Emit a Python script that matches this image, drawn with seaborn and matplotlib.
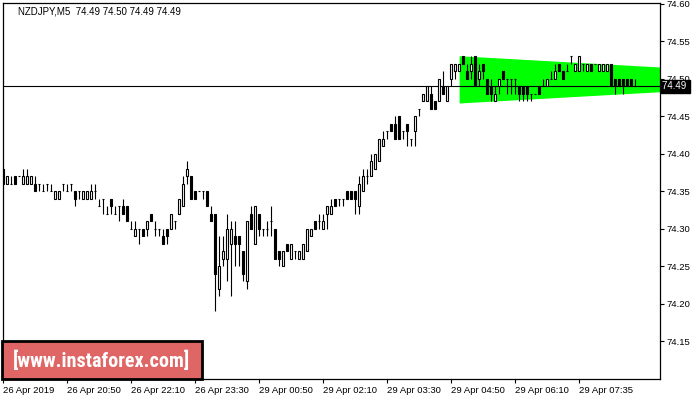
import matplotlib
matplotlib.use("Agg")
import matplotlib.pyplot as plt
import matplotlib.transforms as mtransforms
from matplotlib.patches import Rectangle
from matplotlib import font_manager
import seaborn as sns
import numpy as np
import pandas as pd

# ---------------- data (NZDJPY, M5) ----------------
open_ = [74.38, 74.36, 74.36, 74.37, 74.37, 74.36, 74.36, 74.36, 74.36, 74.36,
         74.35, 74.36, 74.35, 74.34, 74.34, 74.36, 74.35, 74.36, 74.35, 74.35,
         74.34, 74.34, 74.34, 74.35, 74.33, 74.34, 74.32, 74.34, 74.32, 74.33,
         74.33, 74.33, 74.30, 74.29, 74.30, 74.30, 74.30, 74.32, 74.30, 74.30,
         74.29, 74.30, 74.30, 74.31, 74.32, 74.33, 74.37, 74.37, 74.35, 74.35,
         74.35, 74.35, 74.32, 74.32, 74.22, 74.26, 74.26, 74.28, 74.29, 74.29,
         74.27, 74.23, 74.32, 74.28, 74.32, 74.30, 74.30, 74.31, 74.30, 74.27,
         74.25, 74.28, 74.26, 74.27, 74.26, 74.26, 74.27, 74.29, 74.31, 74.31,
         74.30, 74.32, 74.32, 74.34, 74.34, 74.34, 74.35, 74.35, 74.35, 74.33,
         74.35, 74.37, 74.37, 74.38, 74.39, 74.41, 74.43, 74.44, 74.44, 74.45,
         74.43, 74.44, 74.42, 74.43, 74.46, 74.47, 74.47, 74.48, 74.47, 74.47,
         74.49, 74.47, 74.50, 74.51, 74.51, 74.53, 74.51, 74.51, 74.53, 74.50,
         74.52, 74.50, 74.49, 74.47, 74.49, 74.51, 74.50, 74.50, 74.50, 74.49,
         74.49, 74.49, 74.48, 74.48, 74.49, 74.49, 74.49, 74.50, 74.50, 74.52,
         74.51, 74.51, 74.53, 74.51, 74.51, 74.52, 74.51, 74.52, 74.52, 74.51,
         74.51, 74.51, 74.52, 74.50, 74.50, 74.50, 74.50, 74.50, 74.49]
high = [74.38, 74.37, 74.37, 74.37, 74.37, 74.38, 74.38, 74.37, 74.37, 74.36,
        74.36, 74.36, 74.36, 74.35, 74.35, 74.36, 74.36, 74.36, 74.35, 74.35,
        74.35, 74.35, 74.36, 74.36, 74.34, 74.34, 74.33, 74.34, 74.33, 74.33,
        74.34, 74.33, 74.31, 74.31, 74.30, 74.30, 74.31, 74.32, 74.31, 74.30,
        74.30, 74.30, 74.32, 74.31, 74.34, 74.37, 74.39, 74.37, 74.35, 74.35,
        74.35, 74.35, 74.33, 74.32, 74.29, 74.29, 74.32, 74.31, 74.31, 74.29,
        74.27, 74.31, 74.33, 74.33, 74.32, 74.30, 74.31, 74.33, 74.30, 74.27,
        74.27, 74.28, 74.28, 74.27, 74.27, 74.28, 74.30, 74.30, 74.31, 74.32,
        74.32, 74.33, 74.34, 74.34, 74.34, 74.34, 74.35, 74.35, 74.35, 74.37,
        74.38, 74.38, 74.40, 74.40, 74.42, 74.43, 74.43, 74.44, 74.45, 74.45,
        74.43, 74.44, 74.42, 74.45, 74.46, 74.48, 74.49, 74.49, 74.47, 74.50,
        74.51, 74.49, 74.52, 74.52, 74.52, 74.53, 74.52, 74.53, 74.53, 74.52,
        74.52, 74.50, 74.50, 74.49, 74.50, 74.51, 74.50, 74.50, 74.50, 74.49,
        74.49, 74.49, 74.48, 74.48, 74.49, 74.50, 74.50, 74.51, 74.52, 74.52,
        74.51, 74.52, 74.53, 74.52, 74.53, 74.52, 74.52, 74.52, 74.52, 74.52,
        74.52, 74.52, 74.52, 74.50, 74.50, 74.50, 74.50, 74.50, 74.50]
low = [74.36, 74.36, 74.36, 74.36, 74.37, 74.36, 74.36, 74.36, 74.35, 74.35,
       74.35, 74.35, 74.35, 74.34, 74.34, 74.35, 74.35, 74.35, 74.33, 74.34,
       74.34, 74.34, 74.34, 74.34, 74.33, 74.32, 74.32, 74.32, 74.32, 74.31,
       74.32, 74.31, 74.30, 74.29, 74.28, 74.29, 74.29, 74.31, 74.29, 74.29,
       74.28, 74.28, 74.30, 74.30, 74.32, 74.33, 74.36, 74.34, 74.34, 74.35,
       74.34, 74.33, 74.31, 74.19, 74.21, 74.25, 74.23, 74.21, 74.25, 74.25,
       74.23, 74.22, 74.30, 74.28, 74.29, 74.29, 74.29, 74.29, 74.26, 74.25,
       74.25, 74.27, 74.26, 74.26, 74.26, 74.26, 74.27, 74.29, 74.30, 74.30,
       74.30, 74.30, 74.32, 74.33, 74.33, 74.33, 74.34, 74.34, 74.32, 74.32,
       74.35, 74.36, 74.37, 74.38, 74.39, 74.41, 74.42, 74.43, 74.42, 74.42,
       74.42, 74.41, 74.41, 74.41, 74.45, 74.47, 74.47, 74.46, 74.46, 74.47,
       74.48, 74.47, 74.49, 74.50, 74.51, 74.52, 74.50, 74.50, 74.49, 74.49,
       74.50, 74.48, 74.47, 74.47, 74.48, 74.50, 74.48, 74.48, 74.48, 74.47,
       74.47, 74.47, 74.47, 74.48, 74.48, 74.49, 74.49, 74.50, 74.50, 74.51,
       74.50, 74.51, 74.52, 74.51, 74.51, 74.51, 74.51, 74.51, 74.52, 74.51,
       74.51, 74.51, 74.49, 74.48, 74.49, 74.48, 74.49, 74.49, 74.49]
close = [74.36, 74.37, 74.36, 74.36, 74.37, 74.37, 74.37, 74.37, 74.35, 74.36,
         74.35, 74.36, 74.35, 74.35, 74.35, 74.36, 74.35, 74.36, 74.34, 74.35,
         74.35, 74.35, 74.35, 74.35, 74.33, 74.34, 74.32, 74.33, 74.32, 74.33,
         74.32, 74.31, 74.30, 74.30, 74.30, 74.29, 74.31, 74.31, 74.30, 74.30,
         74.28, 74.29, 74.32, 74.31, 74.34, 74.36, 74.38, 74.34, 74.34, 74.35,
         74.35, 74.33, 74.31, 74.24, 74.25, 74.27, 74.30, 74.30, 74.28, 74.28,
         74.24, 74.31, 74.30, 74.33, 74.30, 74.30, 74.30, 74.31, 74.26, 74.26,
         74.27, 74.27, 74.28, 74.27, 74.27, 74.28, 74.30, 74.30, 74.30, 74.31,
         74.31, 74.33, 74.33, 74.33, 74.34, 74.34, 74.34, 74.34, 74.34, 74.36,
         74.37, 74.37, 74.39, 74.40, 74.42, 74.42, 74.43, 74.43, 74.42, 74.42,
         74.43, 74.43, 74.42, 74.45, 74.46, 74.48, 74.49, 74.46, 74.46, 74.50,
         74.48, 74.49, 74.52, 74.52, 74.52, 74.52, 74.50, 74.52, 74.49, 74.51,
         74.51, 74.48, 74.48, 74.48, 74.50, 74.50, 74.50, 74.50, 74.50, 74.48,
         74.48, 74.48, 74.48, 74.48, 74.48, 74.49, 74.50, 74.50, 74.51, 74.51,
         74.50, 74.51, 74.53, 74.52, 74.53, 74.52, 74.52, 74.51, 74.52, 74.52,
         74.52, 74.52, 74.49, 74.49, 74.49, 74.49, 74.49, 74.49, 74.49]

time_labels = ["26 Apr 2019", "26 Apr 20:50", "26 Apr 22:10", "26 Apr 23:30",
               "29 Apr 00:50", "29 Apr 02:10", "29 Apr 03:30", "29 Apr 04:50",
               "29 Apr 06:10", "29 Apr 07:35"]
bars_per_label = 16

y_ticks = [74.15, 74.20, 74.25, 74.30, 74.35, 74.40, 74.45, 74.50, 74.55, 74.60]

# pennant (bar-index units, price)
pennant_x = [114.1, 164.3]
pennant_upper = [74.531, 74.516]
pennant_lower = [74.468, 74.483]

current_price = 74.49
title_text = "NZDJPY,M5  74.49 74.50 74.49 74.49"
watermark = "[www.instaforex.com]"

# ---------------- drawing ----------------
sns.set_style("white")
plt.rcParams['font.family'] = ['Liberation Sans', 'DejaVu Sans']

df = pd.DataFrame({"open": open_, "high": high, "low": low, "close": close})
df["idx"] = np.arange(len(df))
df["bull"] = df["close"] >= df["open"]
df["body_lo"] = df[["open", "close"]].min(axis=1)
df["body_h"] = (df["close"] - df["open"]).abs()

W, H = 700, 400
fig = plt.figure(figsize=(7, 4), dpi=100)
left_px, right_px, top_px, bot_px = 2.7, 660, 2.7, 379
ax = fig.add_axes([left_px / W, 1 - bot_px / H, (right_px - left_px) / W, (bot_px - top_px) / H])
ax.set_facecolor("white")

px_per_bar = 4.0
ax.set_xlim(0, (right_px - left_px) / px_per_bar)
ax.set_ylim(74.10, 74.6017)

# pennant
ax.fill_between(pennant_x, pennant_upper, pennant_lower, color="#00FF00", lw=0, zorder=1)

# current price line
ax.axhline(current_price, color="black", lw=0.8, zorder=2)

# wicks
ax.vlines(df["idx"], df["low"], df["high"], color="black", lw=0.8, zorder=3)

# bodies
face = np.where(df["bull"], "white", "black")
ax.bar(df["idx"], df["body_h"], bottom=df["body_lo"], width=0.5,
       color=face, edgecolor="black", linewidth=0.8, zorder=4)

# axes styling
for s in ax.spines.values():
    s.set_visible(True)
    s.set_color("black")
    s.set_linewidth(0.9)

ax.yaxis.tick_right()
ax.set_yticks(y_ticks)
ax.set_yticklabels([f"{v:.2f}" for v in y_ticks])
ax.tick_params(axis="y", direction="out", length=3, width=0.8, pad=2,
               labelsize=6.8, colors="black", right=True, left=False)

xt = np.arange(len(time_labels)) * bars_per_label
ax.set_xticks(xt)
ax.set_xticklabels(time_labels, ha="left")
ax.tick_params(axis="x", direction="out", length=3, width=0.8, pad=2,
               labelsize=6.8, colors="black", bottom=True)
ax.grid(False)

# current price label on axis
trans = mtransforms.blended_transform_factory(ax.transAxes, ax.transData)
ax.text(1.003, current_price, "74.49 ", transform=trans, ha="left", va="center",
        color="white", fontsize=7, zorder=10, clip_on=False,
        bbox=dict(boxstyle="square,pad=0.15", fc="black", ec="black"))

# title
fig.text(18 / W, 1 - 11.5 / H, title_text, ha="left", va="center", fontsize=7, color="black")

# watermark
names = {f.name for f in font_manager.fontManager.ttflist}
cond = {(f.name, f.stretch) for f in font_manager.fontManager.ttflist}
wm_kw = dict(family="DejaVu Sans")
for cand in ["Liberation Sans Narrow", "Arial Narrow", "Roboto Condensed", "Open Sans Condensed"]:
    if cand in names:
        wm_kw = dict(family=cand)
        break
else:
    for (n, st) in cond:
        if n == "DejaVu Sans" and str(st) in ("condensed", "semi-condensed", "75", "87"):
            wm_kw = dict(family="DejaVu Sans", fontstretch="condensed")
            break

rect = Rectangle((1.7 / W, 1 - 379.3 / H), 200 / W, 38.6 / H, transform=fig.transFigure,
                 facecolor="#E06666", edgecolor="black", linewidth=2.0, zorder=20)
fig.patches.append(rect)
wm = fig.text(101.5 / W, 1 - 360.5 / H, watermark, ha="center", va="center",
              color="white", fontsize=14.5, fontweight="bold", zorder=21, **wm_kw)
fig.canvas.draw()
bb = wm.get_window_extent()
target_w = 184.0
if bb.width > target_w:
    wm.set_fontsize(14.5 * target_w / bb.width)

fig.savefig("out.png", dpi=100)
